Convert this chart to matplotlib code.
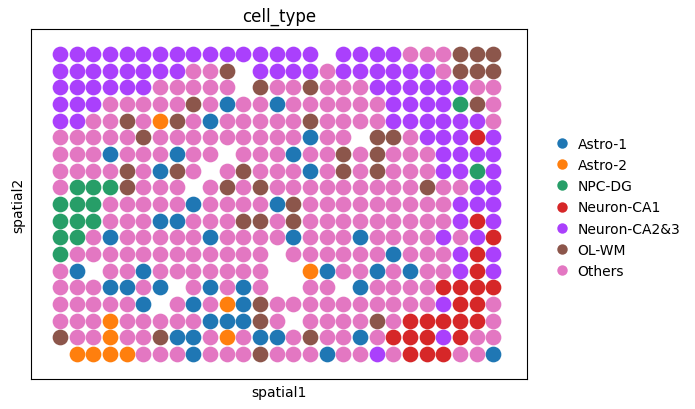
import matplotlib
matplotlib.use('Agg')
import matplotlib.pyplot as plt
from matplotlib.lines import Line2D

# cell type per spot, one string per array row (top to bottom), '.' = no spot
rows = [
    'PPPPPPPPPPPPPPPP.PPPPKKKBBB',
    'PPPPPPPPKKB.PPPPKPPPPPPKBBB',
    'PPPPPPKKKKK.BKKBKKKPPPPPPKK',
    'PPPKKKKKBKLKKLKKKKKKPPPPGBK',
    'PPKKBKOBKLKKKKKBKKKKPPPPPPK',
    'KKKKKBKKKKKKKKKLKK.BBKPPPRP',
    'KKKLKKKLKK.KKKLKKBKBKKKPPPP',
    'KKKKBKLBK.KBKKKLKBKBKKKPPGP',
    'KGGGBKKK.KBKBKKKKKKKKKBKKPP',
    'GGGKKKKKLKKKKLBKKKKKKKKKPPP',
    'GGGKKKLLKKKBBKBKKKKKKKKKPRP',
    'GGKLKKKKKLKKKKLKKKLKKKKPKPR',
    'GKKKKKKKKKKKK.KKKKKKLKKKPRP',
    'KL.KKLKKKKKKK..OLKKLKLKKPRP',
    'KKKLLKL.KLKLK..KK.LKKKKRRRR',
    'KKKKKL.KLKOLBKKKKKKKKKKPRRK',
    'KKKOKKKKKLLLBK.KKKKBKRRRRRK',
    'BKKOKKBLLKOKLLKBKKLKRRRPRKK',
    '.OOOOKKKLKKKBKKKLKKPKRRRKKL',
]

codes = ['L', 'O', 'G', 'R', 'P', 'B', 'K']
labels = ['Astro-1', 'Astro-2', 'NPC-DG', 'Neuron-CA1', 'Neuron-CA2&3', 'OL-WM', 'Others']
colors = ['#1f77b4', '#ff7f0e', '#279e68', '#d62728', '#aa40fc', '#8c564b', '#e377c2']

fig = plt.figure(figsize=(6.95, 4.10), dpi=100)
ax = fig.add_axes([0.0446, 0.0732, 0.7137, 0.8537])

for code, col in zip(codes, colors):
    xs, ys = [], []
    for r, line in enumerate(rows):
        for c, ch in enumerate(line):
            if ch == code:
                xs.append(c)
                ys.append(r)
    ax.scatter(xs, ys, s=128, c=col, linewidths=0)

ax.set_xlim(-1.74, 28.02)
ax.set_ylim(19.5, -1.5)
ax.set_xticks([])
ax.set_yticks([])
ax.set_title('cell_type', fontsize=12)
ax.set_xlabel('spatial1', fontsize=10)
ax.set_ylabel('spatial2', fontsize=10)

handles = [Line2D([], [], marker='o', linestyle='', markersize=7.5, markerfacecolor=c,
                  markeredgewidth=0) for c in colors]
ax.legend(handles, labels, frameon=False, loc='center left', bbox_to_anchor=(1.032, 0.49),
          fontsize=10, handlelength=1.0, handletextpad=0.6, labelspacing=0.52)

fig.savefig('out.png', dpi=100)
